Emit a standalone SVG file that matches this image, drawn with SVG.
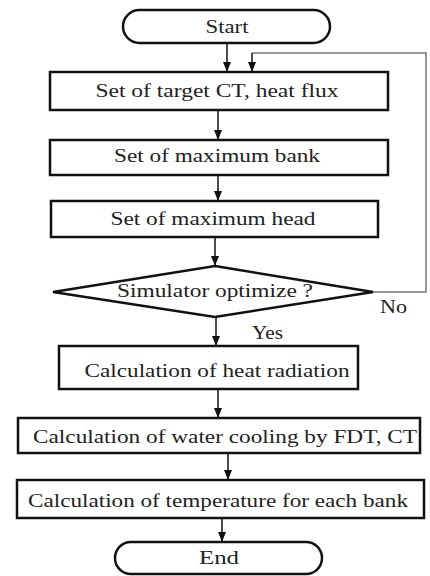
<svg xmlns="http://www.w3.org/2000/svg" width="430" height="576" viewBox="0 0 430 576">
<defs>
<marker id="ah" markerWidth="10" markerHeight="8" refX="10" refY="4" orient="auto" markerUnits="userSpaceOnUse">
<path d="M0,0 L10,4 L0,8 Z" fill="#111"/>
</marker>
<style>
.box{fill:#fff;stroke:#111;stroke-width:2.5}
.t{font-family:"Liberation Serif","Times New Roman",serif;font-size:18px;fill:#222;text-anchor:middle}
.l{font-family:"Liberation Serif","Times New Roman",serif;font-size:18px;fill:#222}
.c{fill:none;stroke:#111;stroke-width:1.5}
.loop{fill:none;stroke:#777;stroke-width:1.5}
</style>
</defs>
<rect width="430" height="576" fill="#fff"/>
<g id="connectors">
<line class="c" x1="227" y1="43" x2="227" y2="72" marker-end="url(#ah)"/>
<polyline class="loop" points="373,292 426,292 426,53 252,53"/>
<line class="c" x1="252" y1="53" x2="252" y2="72" marker-end="url(#ah)"/>
<line class="c" x1="218" y1="110" x2="218" y2="140" marker-end="url(#ah)"/>
<line class="c" x1="218" y1="175" x2="218" y2="201" marker-end="url(#ah)"/>
<line class="c" x1="215" y1="237" x2="215" y2="266" marker-end="url(#ah)"/>
<line class="c" x1="216" y1="317" x2="216" y2="346" marker-end="url(#ah)"/>
<line class="c" x1="218" y1="389" x2="218" y2="418" marker-end="url(#ah)"/>
<line class="c" x1="228" y1="453" x2="228" y2="480" marker-end="url(#ah)"/>
<line class="c" x1="222" y1="518" x2="222" y2="542" marker-end="url(#ah)"/>
<text class="l" x="252" y="339" textLength="31" lengthAdjust="spacingAndGlyphs">Yes</text>
<text class="l" x="380" y="313" textLength="27" lengthAdjust="spacingAndGlyphs">No</text>
</g>
<g id="start">
<rect class="box" x="123" y="10" width="207" height="33" rx="16.5"/>
<text class="t" x="227" y="33" textLength="43" lengthAdjust="spacingAndGlyphs">Start</text>
</g>
<g id="target">
<rect class="box" x="50" y="72" width="338" height="38"/>
<text class="t" x="217" y="97" textLength="243" lengthAdjust="spacingAndGlyphs">Set of target CT, heat flux</text>
</g>
<g id="bank">
<rect class="box" x="50" y="140" width="338" height="35"/>
<text class="t" x="217" y="162" textLength="206" lengthAdjust="spacingAndGlyphs">Set of maximum bank</text>
</g>
<g id="head">
<rect class="box" x="51" y="201" width="327" height="36"/>
<text class="t" x="213" y="225" textLength="205" lengthAdjust="spacingAndGlyphs">Set of maximum head</text>
</g>
<g id="decision">
<polygon class="box" points="215,266 373,292 215,317 53,292"/>
<text class="t" x="215" y="297" textLength="196" lengthAdjust="spacingAndGlyphs">Simulator optimize ?</text>
</g>
<g id="radiation">
<rect class="box" x="59" y="346" width="299" height="43"/>
<text class="t" x="217" y="377" textLength="265" lengthAdjust="spacingAndGlyphs">Calculation of heat radiation</text>
</g>
<g id="cooling">
<rect class="box" x="18" y="418" width="402" height="35"/>
<text class="t" x="225" y="443" textLength="384" lengthAdjust="spacingAndGlyphs">Calculation of water cooling by FDT, CT</text>
</g>
<g id="temperature">
<rect class="box" x="17" y="480" width="407" height="38"/>
<text class="t" x="218" y="507" textLength="380" lengthAdjust="spacingAndGlyphs">Calculation of temperature for each bank</text>
</g>
<g id="end">
<rect class="box" x="115" y="542" width="207" height="32" rx="16"/>
<text class="t" x="219" y="564" textLength="40" lengthAdjust="spacingAndGlyphs">End</text>
</g>
</svg>
